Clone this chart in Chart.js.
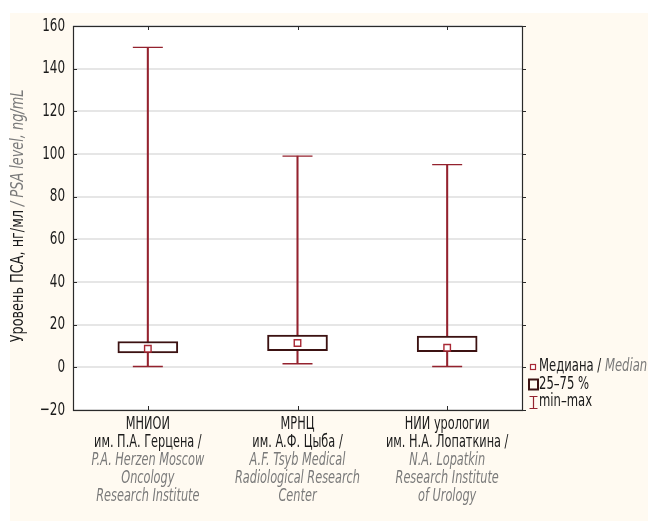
<!DOCTYPE html>
<html>
<head>
<meta charset="utf-8">
<script src="https://cdn.jsdelivr.net/npm/chart.js@4.4.1/dist/chart.umd.min.js"></script>
<style>
  html, body { margin: 0; padding: 0; background: #ffffff; }
  #wrap { position: relative; width: 649px; height: 521px; }
</style>
</head>
<body>
<div id="wrap"><canvas id="c" width="649" height="521"></canvas></div>
<script>
// PSA level by institution: min, quartiles, median, max (ng/mL)
const categories = ['МНИОИ', 'МРНЦ', 'НИИ урологии'];
const labelsRu = [
  ['МНИОИ', 'им. П.А. Герцена /'],
  ['МРНЦ', 'им. А.Ф. Цыба /'],
  ['НИИ урологии', 'им. Н.А. Лопаткина /']
];
const labelsEn = [
  ['P.A. Herzen Moscow', 'Oncology', 'Research Institute'],
  ['A.F. Tsyb Medical', 'Radiological Research', 'Center'],
  ['N.A. Lopatkin', 'Research Institute', 'of Urology']
];
const minValues = [0.4, 1.7, 0.4];
const q1Values = [6.7, 7.8, 7.3];
const q3Values = [12.1, 15.1, 14.7];
const medianValues = [8.7, 11.4, 9.2];
const maxValues = [150, 99, 95];
const yTicks = [-20, 0, 20, 40, 60, 80, 100, 120, 140, 160];

const FONT = '"DejaVu Sans Condensed", "Liberation Sans Narrow", sans-serif';
const WHISKER = '#94222e';
const BOXLINE = '#3c1212';
const MEDIAN = '#a82834';
const INK = '#1a1a1a';
const GRAY = '#7a7a7a';

// draws text squeezed horizontally to get a condensed face
function squeezed(ctx, text, x, y, align, sx) {
  const w = ctx.measureText(text).width * sx;
  let left = x;
  if (align === 'center') left = x - w / 2;
  else if (align === 'right') left = x - w;
  ctx.save();
  ctx.translate(left, y);
  ctx.scale(sx, 1);
  ctx.textAlign = 'left';
  ctx.fillText(text, 0, 0);
  ctx.restore();
  return w;
}

const decor = {
  id: 'decor',
  beforeDraw(chart) {
    const ctx = chart.ctx, a = chart.chartArea;
    ctx.save();
    ctx.fillStyle = '#ffffff';
    ctx.fillRect(0, 0, chart.width, chart.height);
    ctx.fillStyle = '#fffaf1';
    ctx.fillRect(10, 13, chart.width - 11, chart.height - 13);
    ctx.fillStyle = '#ffffff';
    ctx.fillRect(a.left, a.top, a.right - a.left, a.bottom - a.top);
    ctx.restore();
  },
  afterDraw(chart) {
    const ctx = chart.ctx, a = chart.chartArea;
    const xs = chart.scales.x, ys = chart.scales.y;
    ctx.save();
    // frame
    ctx.strokeStyle = '#2a2a2a';
    ctx.lineWidth = 1.2;
    ctx.strokeRect(Math.round(a.left) + 0.5, Math.round(a.top) + 0.5,
                   Math.round(a.right - a.left), Math.round(a.bottom - a.top));
    // tick marks
    ctx.lineWidth = 1;
    ctx.beginPath();
    yTicks.forEach(v => {
      const y = Math.round(ys.getPixelForValue(v)) + 0.5;
      ctx.moveTo(a.left, y); ctx.lineTo(a.left + 4, y);
      ctx.moveTo(a.right, y); ctx.lineTo(a.right + 4, y);
    });
    categories.forEach((c, i) => {
      const x = Math.round(xs.getPixelForTick(i)) + 0.5;
      ctx.moveTo(x, a.top); ctx.lineTo(x, a.top + 4);
      ctx.moveTo(x, a.bottom); ctx.lineTo(x, a.bottom - 4);
    });
    ctx.stroke();

    ctx.textBaseline = 'middle';

    // y tick labels
    ctx.font = '18px ' + FONT;
    ctx.fillStyle = INK;
    yTicks.forEach(v => {
      const t = v < 0 ? '−' + Math.abs(v) : String(v);
      squeezed(ctx, t, a.left - 8, ys.getPixelForValue(v), 'right', 0.74);
    });

    // category labels
    const lh = 17.8;
    categories.forEach((c, i) => {
      const x = xs.getPixelForTick(i);
      let y = a.bottom + 15;
      ctx.font = '17px ' + FONT;
      ctx.fillStyle = INK;
      labelsRu[i].forEach(t => { squeezed(ctx, t, x, y, 'center', 0.74); y += lh; });
      ctx.font = 'italic 17px ' + FONT;
      ctx.fillStyle = GRAY;
      labelsEn[i].forEach(t => { squeezed(ctx, t, x, y, 'center', 0.74); y += lh; });
    });

    // y-axis title
    ctx.save();
    ctx.translate(19, 216);
    ctx.rotate(-Math.PI / 2);
    const p1 = 'Уровень ПСА, нг/мл ', p2 = '/ PSA level, ng/mL';
    const tsx = 0.84;
    ctx.font = '17px ' + FONT;
    const w1 = ctx.measureText(p1).width * tsx;
    ctx.font = 'italic 17px ' + FONT;
    const w2 = ctx.measureText(p2).width * tsx;
    const sx0 = -(w1 + w2) / 2;
    ctx.font = '17px ' + FONT;
    ctx.fillStyle = INK;
    squeezed(ctx, p1, sx0, 0, 'left', tsx);
    ctx.font = 'italic 17px ' + FONT;
    ctx.fillStyle = GRAY;
    squeezed(ctx, p2, sx0 + w1, 0, 'left', tsx);
    ctx.restore();

    // legend
    const lx = a.right + 6;
    const rows = [367, 384.5, 402];
    const lsx = 0.76;
    // median
    ctx.fillStyle = '#ffffff';
    ctx.strokeStyle = MEDIAN;
    ctx.lineWidth = 1.2;
    ctx.fillRect(lx + 2, rows[0] - 3, 6, 6);
    ctx.strokeRect(lx + 2.5, rows[0] - 2.5, 5, 5);
    ctx.font = '17px ' + FONT;
    ctx.fillStyle = INK;
    const tw = squeezed(ctx, 'Медиана / ', lx + 11, rows[0], 'left', lsx);
    ctx.font = 'italic 17px ' + FONT;
    ctx.fillStyle = GRAY;
    squeezed(ctx, 'Median', lx + 11 + tw, rows[0], 'left', lsx);
    // box
    ctx.strokeStyle = BOXLINE;
    ctx.lineWidth = 2;
    ctx.strokeRect(lx + 1, rows[1] - 5, 9, 10);
    ctx.font = '17px ' + FONT;
    ctx.fillStyle = INK;
    squeezed(ctx, '25–75 %', lx + 11, rows[1], 'left', lsx);
    // whisker
    ctx.strokeStyle = WHISKER;
    ctx.lineWidth = 1.2;
    ctx.beginPath();
    ctx.moveTo(lx + 5.5, rows[2] - 5); ctx.lineTo(lx + 5.5, rows[2] + 6);
    ctx.moveTo(lx + 1.5, rows[2] - 5.5); ctx.lineTo(lx + 9.5, rows[2] - 5.5);
    ctx.moveTo(lx + 1.5, rows[2] + 6.5); ctx.lineTo(lx + 9.5, rows[2] + 6.5);
    ctx.stroke();
    ctx.fillStyle = INK;
    ctx.font = '17px ' + FONT;
    squeezed(ctx, 'min–max', lx + 11, rows[2], 'left', lsx);
    ctx.restore();
  }
};

new Chart(document.getElementById('c'), {
  type: 'bar',
  data: {
    labels: categories,
    datasets: [
      {
        type: 'bar',
        label: 'min–max',
        data: minValues.map((v, i) => [v, maxValues[i]]),
        backgroundColor: WHISKER,
        borderWidth: 0,
        barThickness: 1.4,
        grouped: false,
        order: 4
      },
      {
        type: 'bar',
        label: '25–75 %',
        data: q1Values.map((v, i) => [v, q3Values[i]]),
        backgroundColor: '#ffffff',
        borderColor: BOXLINE,
        borderWidth: 2,
        borderSkipped: false,
        barThickness: 60,
        grouped: false,
        order: 3
      },
      {
        type: 'line',
        label: 'max',
        data: maxValues,
        showLine: false,
        pointStyle: 'line',
        pointRadius: 15,
        pointBorderColor: WHISKER,
        pointBorderWidth: 1.4,
        order: 2
      },
      {
        type: 'line',
        label: 'min',
        data: minValues,
        showLine: false,
        pointStyle: 'line',
        pointRadius: 15,
        pointBorderColor: WHISKER,
        pointBorderWidth: 1.4,
        order: 2
      },
      {
        type: 'line',
        label: 'Медиана',
        data: medianValues,
        showLine: false,
        pointStyle: 'rect',
        pointRadius: 4.6,
        pointBackgroundColor: '#ffffff',
        pointBorderColor: MEDIAN,
        pointBorderWidth: 1.4,
        order: 1
      }
    ]
  },
  options: {
    responsive: false,
    animation: false,
    events: [],
    layout: { padding: { left: 10, right: 127, top: 26, bottom: 111 } },
    plugins: { legend: { display: false }, tooltip: { enabled: false } },
    scales: {
      x: {
        offset: true,
        grid: { display: false },
        border: { display: false },
        ticks: { display: false },
        afterFit(s) { s.height = 0; }
      },
      y: {
        min: -20,
        max: 160,
        afterBuildTicks(s) { s.ticks = yTicks.map(v => ({ value: v })); },
        grid: { color: '#e6e6e6', lineWidth: 2, drawTicks: false },
        border: { display: false },
        ticks: { display: false },
        afterFit(s) { s.width = 63; }
      }
    }
  },
  plugins: [decor]
});
</script>
</body>
</html>
